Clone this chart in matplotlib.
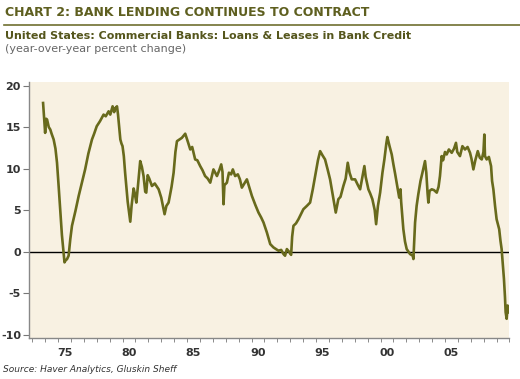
import matplotlib.pyplot as plt
import numpy as np

# Дані (рік, % р/р)
years = [1973.84, 1973.95, 1974.0, 1974.08, 1974.15, 1974.28, 1974.4, 1974.5, 1974.66, 1974.8,
         1974.92, 1975.05, 1975.18, 1975.3, 1975.43, 1975.5, 1975.57, 1975.7, 1975.82, 1975.95,
         1976.08, 1976.35, 1976.6, 1976.85, 1977.1, 1977.35, 1977.63, 1977.8, 1978.0, 1978.25,
         1978.53, 1978.7, 1978.92, 1979.05, 1979.23, 1979.35, 1979.45, 1979.57, 1979.65, 1979.83,
         1979.92, 1980.0, 1980.1, 1980.2, 1980.4, 1980.6, 1980.7, 1980.86, 1980.95, 1981.07,
         1981.2, 1981.37, 1981.5, 1981.63, 1981.76, 1981.84, 1981.95, 1982.07, 1982.28, 1982.5,
         1982.8, 1983.0, 1983.26, 1983.4, 1983.57, 1983.8, 1983.96, 1984.1, 1984.22, 1984.6,
         1984.86, 1985.05, 1985.25, 1985.4, 1985.63, 1985.8, 1986.02, 1986.2, 1986.4, 1986.6,
         1986.8, 1987.05, 1987.32, 1987.5, 1987.65, 1987.75, 1987.83, 1987.9, 1988.09, 1988.25,
         1988.42, 1988.55, 1988.73, 1988.94, 1989.1, 1989.25, 1989.45, 1989.64, 1989.85, 1990.03,
         1990.3, 1990.54, 1990.75, 1990.93, 1991.19, 1991.45, 1991.7, 1991.9, 1992.09, 1992.3,
         1992.48, 1992.6, 1992.74, 1992.9, 1993.07, 1993.15, 1993.25, 1993.45, 1993.64, 1994.02,
         1994.29, 1994.54, 1994.75, 1994.93, 1995.15, 1995.32, 1995.5, 1995.7, 1995.9, 1996.09,
         1996.3, 1996.53, 1996.73, 1996.9, 1997.12, 1997.3, 1997.46, 1997.6, 1997.77, 1998.03,
         1998.25, 1998.42, 1998.6, 1998.75, 1998.85, 1999.06, 1999.2, 1999.37, 1999.55, 1999.66,
         1999.8, 1999.97, 2000.15, 2000.3, 2000.45, 2000.53, 2000.7, 2000.87, 2001.0, 2001.13,
         2001.34, 2001.45, 2001.55, 2001.6, 2001.77, 2001.9, 2002.03, 2002.29, 2002.5, 2002.55,
         2002.62, 2002.68, 2002.8, 2002.93, 2003.1, 2003.25, 2003.45, 2003.55, 2003.65, 2003.71,
         2003.8, 2003.97, 2004.15, 2004.36, 2004.5, 2004.61, 2004.74, 2004.85, 2005.0, 2005.13,
         2005.3, 2005.52, 2005.7, 2005.85, 2005.95, 2006.16, 2006.35, 2006.55, 2006.75, 2006.94,
         2007.05, 2007.2, 2007.35, 2007.54, 2007.7, 2007.85, 2007.98, 2008.05, 2008.1, 2008.23,
         2008.4, 2008.57, 2008.65, 2008.75, 2008.88, 2009.0, 2009.1, 2009.2, 2009.3, 2009.39,
         2009.5, 2009.57, 2009.65, 2009.7, 2009.78, 2009.85, 2009.9, 2009.95]
values = [17.9, 15.5, 14.3, 16.0, 15.9, 15.0, 14.7, 14.2, 13.5, 12.4,
          10.7, 7.8, 4.7, 2.0, -0.1, -1.3, -1.1, -0.9, -0.5, 1.5,
          3.1, 4.9, 6.7, 8.3, 9.9, 11.8, 13.5, 14.2, 15.1, 15.7,
          16.5, 16.3, 16.9, 16.5, 17.5, 16.8, 17.3, 17.5, 16.5, 13.5,
          13.0, 12.7, 11.5, 9.5, 6.0, 3.6, 5.5, 7.6, 7.0, 5.9,
          8.0, 10.9, 10.2, 9.1, 7.2, 7.1, 9.2, 8.8, 7.9, 8.2,
          7.5, 6.5, 4.5, 5.5, 5.9, 7.8, 9.5, 12.0, 13.3, 13.7,
          14.2, 13.3, 12.3, 12.6, 11.1, 11.0, 10.3, 9.8, 9.1, 8.8,
          8.3, 9.9, 9.1, 9.8, 10.5, 9.6, 5.7, 8.0, 8.3, 9.5,
          9.3, 9.9, 9.1, 9.3, 8.7, 7.7, 8.2, 8.7, 7.6, 6.7,
          5.6, 4.7, 4.1, 3.5, 2.3, 0.9, 0.5, 0.3, 0.1, 0.2,
          -0.3, -0.5, 0.3, 0.0, -0.4, 1.8, 3.1, 3.4, 3.9, 5.1,
          5.5, 5.9, 7.5, 9.1, 11.0, 12.1, 11.6, 11.1, 9.9, 8.7,
          6.8, 4.7, 6.3, 6.6, 7.9, 8.8, 10.7, 9.5, 8.7, 8.7,
          8.0, 7.5, 9.0, 10.3, 9.0, 7.5, 7.0, 6.3, 5.0, 3.3,
          5.5, 7.1, 9.5, 11.1, 13.0, 13.8, 12.7, 11.7, 10.5, 9.4,
          7.5, 6.5, 7.5, 6.0, 2.7, 1.2, 0.3, -0.3, -0.5, -0.9,
          1.5, 3.5, 5.5, 6.9, 8.5, 9.5, 10.9, 9.5, 7.0, 5.9,
          7.3, 7.5, 7.4, 7.1, 7.8, 9.1, 11.5, 11.0, 12.0, 11.7,
          12.3, 11.9, 12.4, 13.1, 12.0, 11.5, 12.7, 12.3, 12.6, 11.9,
          11.2, 9.9, 11.0, 12.1, 11.3, 11.1, 12.0, 14.1, 11.5, 11.1,
          11.4, 10.3, 8.5, 7.5, 5.5, 3.9, 3.3, 2.7, 1.3, 0.3,
          -1.8, -3.3, -5.5, -7.3, -8.1, -6.5, -6.8, -7.3]

label_years = [1975, 1980, 1985, 1990, 1995, 2000, 2005]
label_text = ['75', '80', '85', '90', '95', '00', '05']
y_ticks = [-10, -5, 0, 5, 10, 15, 20]

olive = '#686a1c'
title_col = '#5e5f1f'

plt.rcParams['axes.unicode_minus'] = False

fig = plt.figure(figsize=(5.2, 3.79), dpi=100)
ax = fig.add_axes([0.0563, 0.1074, 0.9235, 0.6756])
ax.set_facecolor('#f8f1e2')

ax.plot(years, values, color=olive, linewidth=1.9, solid_joinstyle='round')
ax.axhline(0, color='black', linewidth=1.0, zorder=1)

ax.set_xlim(1972.77, 2010.0)
ax.set_ylim(-10.45, 20.4)

# Мітки років по центру року, дрібні риски на межах років
ax.set_xticks([y + 0.5 for y in label_years])
ax.set_xticklabels(label_text)
ax.set_xticks(np.arange(1973, 2011), minor=True)
ax.tick_params(axis='x', which='major', length=0, pad=7, labelsize=8, labelcolor='#333333')
ax.tick_params(axis='x', which='minor', length=3, color='#777777')
ax.set_yticks(y_ticks)
ax.tick_params(axis='y', length=4, color='#777777', labelsize=8, labelcolor='#333333', pad=2)
for lab in ax.get_yticklabels() + ax.get_xticklabels():
    lab.set_fontweight('bold')

for s in ['top', 'right']:
    ax.spines[s].set_visible(False)
for s in ['left', 'bottom']:
    ax.spines[s].set_color('#888888')
    ax.spines[s].set_linewidth(1.0)

# Заголовки
fig.text(0.01, 0.967, 'CHART 2: BANK LENDING CONTINUES TO CONTRACT', fontsize=9,
         fontweight='bold', color=title_col, va='center')
fig.add_artist(plt.Line2D([0.008, 1.0], [0.934, 0.934], color='#6f7030', linewidth=1.2))
fig.text(0.01, 0.906, 'United States: Commercial Banks: Loans & Leases in Bank Credit',
         fontsize=8, fontweight='bold', color='#55561c', va='center')
fig.text(0.01, 0.872, '(year-over-year percent change)', fontsize=8, color='#666666', va='center')
fig.text(0.006, 0.024, 'Source: Haver Analytics, Gluskin Sheff', fontsize=6.5,
         style='italic', color='#333333', va='center')

fig.savefig('out.png', dpi=100)
